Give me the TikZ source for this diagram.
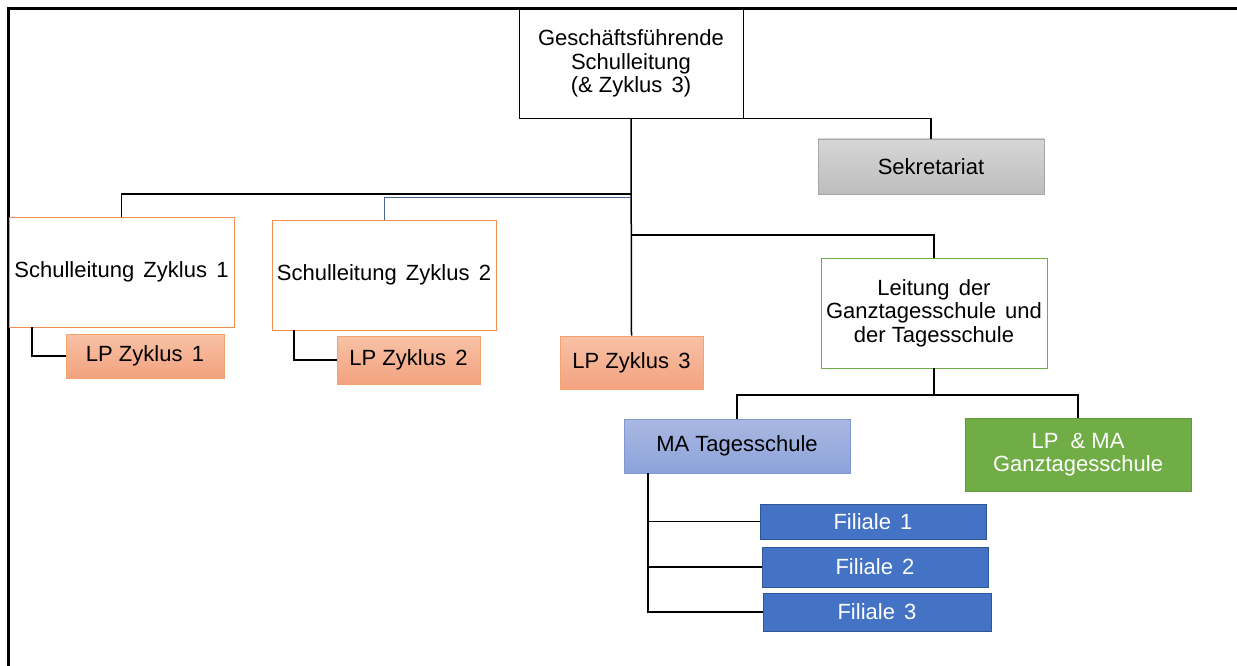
\documentclass[tikz,border=0pt]{standalone}
\usepackage{fontspec}
\setmainfont{Liberation Sans}
\newcommand{\wsp}{\hspace{0.42em}}
\definecolor{orgline}{HTML}{ED8F52}
\definecolor{lptop}{HTML}{F7C2A6}
\definecolor{lpbot}{HTML}{F3A27E}
\definecolor{lpline}{HTML}{F4A26E}
\definecolor{sektop}{HTML}{D6D6D6}
\definecolor{sekbot}{HTML}{BDBDBD}
\definecolor{sekline}{HTML}{A6A6A6}
\definecolor{matop}{HTML}{AAB8E2}
\definecolor{mabot}{HTML}{8CA3DA}
\definecolor{maline}{HTML}{7F98D4}
\definecolor{gtgreen}{HTML}{70AD47}
\definecolor{gtline}{HTML}{5F9A3C}
\definecolor{filblue}{HTML}{4472C4}
\definecolor{filline}{HTML}{2F5597}
\definecolor{conblue}{HTML}{4A6498}
\begin{document}
\begin{tikzpicture}[x=1pt,y=-1pt,
  every node/.style={inner sep=0pt, align=center, font=\fontsize{22}{23.5}\selectfont},
  box/.style={draw, line width=0.8pt},
  plain/.style={box, draw=black, fill=white},
  orgbox/.style={box, draw=orgline, fill=white},
  lpbox/.style={box, draw=lpline, top color=lptop, bottom color=lpbot},
  sekbox/.style={box, draw=sekline, top color=sektop, bottom color=sekbot},
  mabox/.style={box, draw=maline, top color=matop, bottom color=mabot},
  gtbox/.style={box, draw=gtgreen, fill=white},
  gtfill/.style={box, draw=gtline, fill=gtgreen, text=white},
  filbox/.style={box, draw=filline, fill=filblue, text=white},
  con/.style={draw=black, line width=1.5pt},
  frame/.style={draw=black, line width=3pt}
]
\useasboundingbox (0,0) rectangle (1237,666);
\fill[white] (0,0) rectangle (1237,666);
% frame
\coordinate (fa) at (8.5,666);
\coordinate (fb) at (8.5,8.5);
\coordinate (fc) at (1237,8.5);
\draw[frame] (fa) -- (fb) -- (fc);

% nodes
\node[plain, minimum width=224pt, minimum height=109pt] (top) at (631,63.5) {Geschäftsführende\\Schulleitung\\(\& Zyklus\wsp 3)};
\node[sekbox, minimum width=226pt, minimum height=55pt] (sek) at (931,166.5) {Sekretariat};
\node[orgbox, minimum width=225pt, minimum height=110pt] (sl1) at (121.5,272) {Schulleitung\wsp Zyklus\wsp 1};
\node[orgbox, minimum width=224pt, minimum height=110pt] (sl2) at (384,275) {Schulleitung\wsp Zyklus\wsp 2};
\node[lpbox, minimum width=158pt, minimum height=44pt] (lp1) at (145,356) {LP Zyklus\wsp 1};
\node[lpbox, minimum width=143pt, minimum height=48pt] (lp2) at (408.5,360) {LP Zyklus\wsp 2};
\node[lpbox, minimum width=143pt, minimum height=53pt] (lp3) at (631.5,362.5) {LP Zyklus\wsp 3};
\node[gtbox, minimum width=226pt, minimum height=110pt] (leit) at (934,313) {Leitung\wsp der\\Ganztagesschule\wsp und\\der Tagesschule};
\node[mabox, minimum width=226pt, minimum height=54pt] (ma) at (737,446) {MA Tagesschule};
\node[gtfill, minimum width=226pt, minimum height=73pt] (lpma) at (1078,454.5) {LP\ \ \& MA\\Ganztagesschule};
\node[filbox, minimum width=226pt, minimum height=35pt] (fil1) at (873,521.5) {Filiale\wsp 1};
\node[filbox, minimum width=226pt, minimum height=40pt] (fil2) at (875,567) {Filiale\wsp 2};
\node[filbox, minimum width=228pt, minimum height=38pt] (fil3) at (877,612) {Filiale\wsp 3};

% junctions
\coordinate (j1) at (631,194);
\coordinate (j2) at (631,197);
\coordinate (j4) at (631,235);
\coordinate (j5) at (934,395);
\coordinate (j6) at (648,473);
\coordinate (j7) at (32,327);
\coordinate (j8) at (294,330);

% connectors
\draw[con] (top.south) -- (lp3.north);
\draw[con] (sl1.north) |- (j1);
\draw[draw=conblue, line width=1pt] (sl2.north) |- (j2);
\draw[con] (top.south east) -| (sek.north);
\draw[con] (j4) -| (leit.north);
\draw[con] (leit.south) -- (j5);
\draw[con] (ma.north) |- (j5) -| (lpma.north);
\draw[con] (j6) |- (fil3.west);
\draw[con] (j6 |- fil1.west) -- (fil1.west);
\draw[con] (j6 |- fil2.west) -- (fil2.west);
\draw[con] (j7) |- (lp1.west);
\draw[con] (j8) |- (lp2.west);
\end{tikzpicture}
\end{document}
